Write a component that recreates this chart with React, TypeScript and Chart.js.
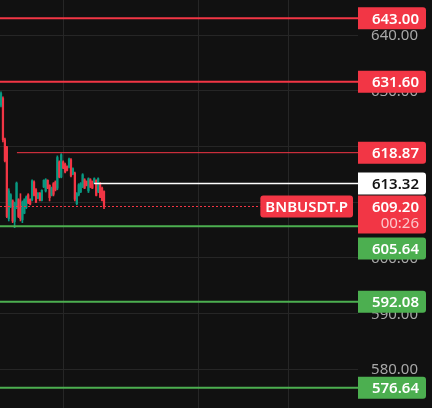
import React, { useEffect, useRef } from "react";
import { Chart, registerables } from "chart.js";

Chart.register(...registerables);

// ---- data ----
const opens = [627.4, 628.6, 621.2, 619.9, 607.0, 609.2, 610.2, 606.5, 609.0, 610.4, 609.0, 606.8, 608.0, 609.0, 611.3, 610.5, 610.4, 613.6, 612.2, 610.7, 611.6, 610.3, 612.7, 612.0, 613.9, 613.0, 611.2, 613.3, 613.6, 612.5, 617.2, 614.5, 617.2, 616.8, 616.4, 616.3, 617.6, 615.0, 615.2, 609.7, 611.3, 611.8, 612.7, 614.0, 613.7, 612.0, 614.0, 613.7, 613.4, 613.9, 611.9, 613.3, 612.5, 611.9];
const highs = [629.8, 628.9, 621.5, 620.0, 612.4, 611.5, 610.4, 610.0, 613.6, 610.6, 611.5, 610.2, 610.6, 611.1, 611.5, 610.6, 614.0, 613.8, 612.4, 611.7, 611.7, 612.2, 614.0, 614.2, 614.0, 613.1, 612.7, 613.5, 613.8, 618.3, 617.4, 618.7, 617.4, 617.0, 616.5, 617.9, 617.8, 616.15, 615.4, 611.7, 613.3, 613.5, 615.1, 614.2, 613.8, 614.35, 614.2, 613.8, 614.35, 614.0, 614.35, 613.5, 612.7, 612.0];
const lows = [627.1, 620.8, 617.2, 607.2, 606.6, 609.0, 606.3, 605.4, 608.8, 607.2, 606.6, 606.3, 607.9, 608.8, 609.7, 609.5, 610.2, 611.1, 609.9, 610.6, 610.2, 610.2, 612.6, 611.8, 612.4, 610.2, 611.1, 611.1, 612.0, 612.2, 614.35, 614.35, 616.0, 615.25, 615.6, 616.15, 614.5, 614.9, 610.2, 609.5, 611.1, 611.7, 612.6, 612.4, 612.9, 611.7, 612.6, 612.4, 613.3, 611.1, 611.7, 610.8, 610.2, 608.8];
const closes = [629.5, 621.2, 617.4, 607.4, 612.0, 611.3, 606.6, 609.8, 613.4, 607.4, 607.0, 610.0, 610.4, 610.9, 609.9, 609.6, 613.8, 611.2, 610.0, 611.6, 610.3, 612.1, 613.9, 614.0, 612.5, 610.8, 612.5, 611.4, 612.2, 618.0, 614.5, 618.5, 616.1, 615.4, 615.7, 617.7, 614.7, 616.0, 610.5, 611.5, 613.1, 613.3, 614.9, 612.5, 613.0, 614.2, 612.7, 612.5, 614.2, 611.2, 614.2, 610.9, 610.3, 609.2];

const levelPrices = [643.0, 631.6, 618.87, 613.32, 605.64, 592.08, 576.64];
const levelKinds = ["red", "red", "red", "white", "green", "green", "green"];
const levelStartIndex = [null, null, 8.2, 47.9, null, null, null];

const lastPrice = 609.2;
const symbolName = "BNBUSDT.P";
const countdown = "00:26";

const yTicks = [580, 590, 600, 610, 620, 630, 640];
const xGridTicks = [32, 101.5, 148];

// ---- styles ----
const RED = "#f23645";
const GREEN_LINE = "#4caf50";
const CANDLE_UP = "#089981";
const BG = "#111111";
const GRID = "#262626";
const FONT = "15px 'Noto Sans'";
const FONT_BOLD = "600 15px 'Noto Sans'";

const kindStyle: Record<string, { line: string; box: string; text: string; width: number }> = {
  red: { line: RED, box: RED, text: "#ffffff", width: 2 },
  white: { line: "#ffffff", box: "#ffffff", text: "#131313", width: 1.5 },
  green: { line: GREEN_LINE, box: GREEN_LINE, text: "#ffffff", width: 2 },
};

function roundRect(ctx: CanvasRenderingContext2D, x: number, y: number, w: number, h: number, r: number[]) {
  ctx.beginPath();
  (ctx as any).roundRect(x, y, w, h, r);
  ctx.fill();
}

const overlayPlugin = {
  id: "overlay",
  beforeDraw(chart: any) {
    const ctx = chart.ctx;
    ctx.save();
    ctx.fillStyle = BG;
    ctx.fillRect(0, 0, chart.width, chart.height);
    ctx.restore();
  },
  afterDatasetsDraw(chart: any) {
    const ctx: CanvasRenderingContext2D = chart.ctx;
    const ys = chart.scales.y;
    const xs = chart.scales.x;
    const area = chart.chartArea;
    ctx.save();

    // level lines
    levelPrices.forEach((p, i) => {
      const st = kindStyle[levelKinds[i]];
      const y = ys.getPixelForValue(p);
      const sIdx = levelStartIndex[i];
      const x0 = sIdx == null ? area.left : xs.getPixelForValue(sIdx);
      ctx.strokeStyle = st.line;
      ctx.lineWidth = levelKinds[i] === "red" && i === 2 ? 1 : st.width;
      ctx.beginPath();
      ctx.moveTo(x0, y);
      ctx.lineTo(area.right, y);
      ctx.stroke();
    });

    // symbol label + dotted last price line
    const lastY = ys.getPixelForValue(lastPrice);
    ctx.font = FONT_BOLD;
    const symW = ctx.measureText(symbolName).width + 10;
    const symRight = area.right - 5;
    const symLeft = symRight - symW;
    ctx.strokeStyle = RED;
    ctx.lineWidth = 1;
    ctx.setLineDash([2, 2]);
    ctx.beginPath();
    ctx.moveTo(area.left, lastY);
    ctx.lineTo(symLeft, lastY);
    ctx.stroke();
    ctx.setLineDash([]);
    ctx.fillStyle = RED;
    roundRect(ctx, symLeft, lastY - 11, symW, 22, [3, 3, 3, 3]);
    ctx.fillStyle = "#ffffff";
    ctx.textAlign = "center";
    ctx.textBaseline = "middle";
    ctx.fillText(symbolName, symLeft + symW / 2, lastY + 1);

    // axis tick labels
    ctx.font = FONT;
    ctx.fillStyle = "#a8a8a8";
    ctx.textAlign = "right";
    yTicks.forEach((t) => {
      const y = ys.getPixelForValue(t);
      ctx.fillText(t.toFixed(2), area.right + 60, y + 1);
    });

    // price boxes, stacked to avoid overlap
    const boxes: { top: number; h: number; price: number; kind: string; last: boolean }[] = [];
    levelPrices.forEach((p, i) => boxes.push({ top: 0, h: 22, price: p, kind: levelKinds[i], last: false }));
    boxes.push({ top: 0, h: 38, price: lastPrice, kind: "red", last: true });
    boxes.forEach((b) => (b.top = ys.getPixelForValue(b.price) - 11));
    boxes.sort((a, b) => a.top - b.top);
    for (let i = 1; i < boxes.length; i++) {
      const prevBottom = boxes[i - 1].top + boxes[i - 1].h;
      if (boxes[i].top < prevBottom) boxes[i].top = prevBottom + 4;
    }
    const bx = area.right;
    const bw = 68;
    boxes.forEach((b) => {
      const st = kindStyle[b.kind];
      ctx.fillStyle = st.box;
      roundRect(ctx, bx, b.top, bw, b.h, [0, 3, 3, 0]);
      ctx.fillStyle = st.text;
      ctx.font = FONT_BOLD;
      ctx.textAlign = "right";
      ctx.fillText(b.price.toFixed(2), bx + 61, b.top + 12);
      if (b.last) {
        ctx.fillStyle = "rgba(255,255,255,0.72)";
        ctx.font = FONT;
        ctx.fillText(countdown, bx + 61, b.top + 28);
      }
    });

    ctx.restore();
  },
};

export default function App() {
  const ref = useRef<HTMLCanvasElement | null>(null);

  useEffect(() => {
    if (!ref.current) return;
    const idx = opens.map((_, i) => i);
    const colorFor = (i: number) => (closes[i] >= opens[i] ? CANDLE_UP : RED);
    const chart = new Chart(ref.current, {
      type: "bar",
      data: {
        datasets: [
          {
            data: idx.map((i) => ({ x: i, y: [lows[i], highs[i]] })) as any,
            backgroundColor: idx.map(colorFor),
            borderWidth: 0,
            barThickness: 1,
            grouped: false,
          } as any,
          {
            data: idx.map((i) => ({ x: i, y: [opens[i], closes[i]] })) as any,
            backgroundColor: idx.map(colorFor),
            borderWidth: 0,
            barThickness: 1.6,
            grouped: false,
          } as any,
        ],
      },
      options: {
        animation: false,
        responsive: true,
        maintainAspectRatio: false,
        layout: { padding: 0 },
        plugins: { legend: { display: false }, tooltip: { enabled: false } },
        scales: {
          x: {
            type: "linear",
            min: -0.515,
            max: 183.7,
            offset: false,
            afterBuildTicks: (s: any) => {
              s.ticks = xGridTicks.map((v) => ({ value: v }));
            },
            afterFit: (s: any) => {
              s.height = 0;
            },
            ticks: { display: false },
            grid: { color: GRID, drawTicks: false, offset: false },
            border: { display: false },
          },
          y: {
            position: "right",
            min: 573.0,
            max: 646.3,
            afterBuildTicks: (s: any) => {
              s.ticks = yTicks.map((v) => ({ value: v }));
            },
            afterFit: (s: any) => {
              s.width = 74;
            },
            ticks: { display: false },
            grid: { color: GRID, drawTicks: false },
            border: { display: false },
          },
        },
      } as any,
      plugins: [overlayPlugin],
    });
    return () => chart.destroy();
  }, []);

  return (
    <div style={{ position: "fixed", left: 0, top: 0, width: 432, height: 408, background: BG }}>
      <canvas ref={ref} />
    </div>
  );
}
